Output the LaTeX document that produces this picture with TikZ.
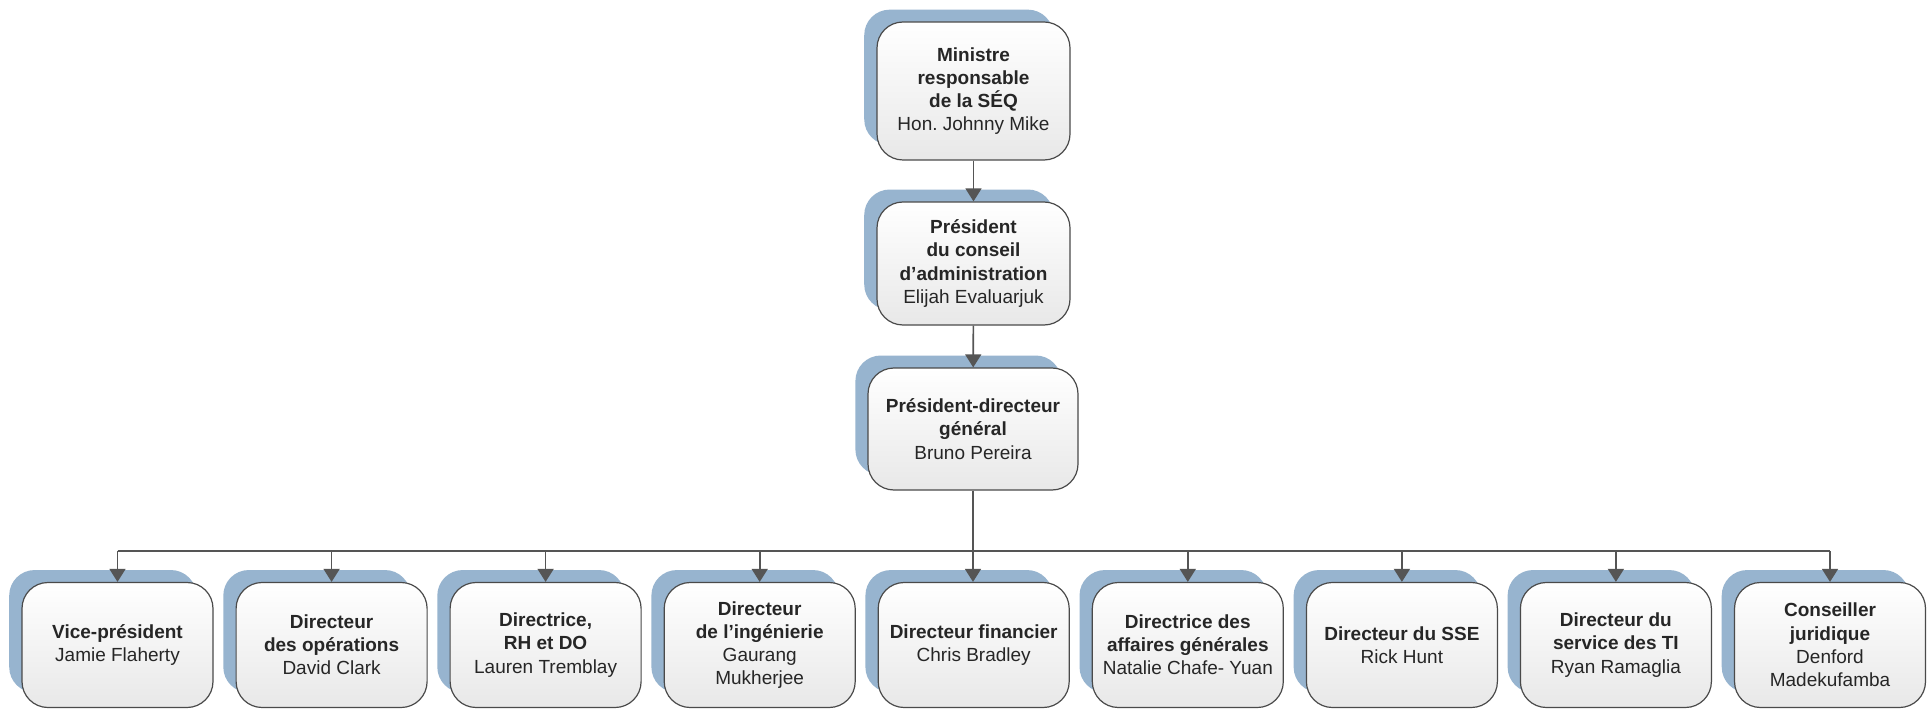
\documentclass[tikz,border=0pt]{standalone}
\usepackage{fontspec}
\setmainfont{Liberation Sans}
\usetikzlibrary{shadows,arrows.meta}
\definecolor{shadowblue}{HTML}{97B4CF}
\definecolor{boxline}{HTML}{4A4A4A}
\definecolor{linkgray}{HTML}{555555}
\definecolor{txt}{HTML}{262626}
\newcommand{\orgfont}{\fontsize{9.5}{11.6}\selectfont}
\tikzset{
  org/.style={rectangle, rounded corners=13pt, draw=boxline, line width=0.6pt,
    top color=white, bottom color=black!9, align=center, text=txt, font=\orgfont,
    inner sep=2pt,
    general shadow={fill=shadowblue, shadow xshift=-7.5pt, shadow yshift=7pt, shadow scale=0.98}},
  small/.style={minimum width=95.5pt, minimum height=62.5pt},
  link/.style={draw=linkgray, line width=0.8pt, -{Triangle[length=6.5pt,width=8pt]}},
  busline/.style={draw=linkgray, line width=1pt}
}
\begin{document}
\frenchspacing
\begin{tikzpicture}[x=0.5pt,y=-0.5pt]
\useasboundingbox[fill=white] (0,0) rectangle (1927,711);

\node[org, minimum width=96.5pt, minimum height=69pt] (a) at (973.5,91)
  {\textbf{Ministre}\\\textbf{responsable}\\\textbf{de la SÉQ}\\Hon. Johnny Mike};
\node[org, minimum width=96.5pt, minimum height=61.5pt] (b) at (973.5,263.5)
  {\textbf{Président}\\\textbf{du conseil}\\\textbf{d’administration}\\Elijah Evaluarjuk};
\node[org, minimum width=105pt, minimum height=61pt] (c) at (973,429)
  {\textbf{Président-directeur}\\\textbf{général}\\Bruno Pereira};

\node[org, small] (b1) at (117.5,645) {\textbf{Vice-président}\\Jamie Flaherty};
\node[org, small] (b2) at (331.6,645) {\textbf{Directeur}\\\textbf{des opérations}\\David Clark};
\node[org, small] (b3) at (545.6,645) {\textbf{Directrice,}\\\textbf{RH et DO}\\Lauren Tremblay};
\node[org, small] (b4) at (759.7,645) {\textbf{Directeur}\\\textbf{de l’ingénierie}\\Gaurang\\Mukherjee};
\node[org, small] (b5) at (973.7,645) {\textbf{Directeur financier}\\Chris Bradley};
\node[org, small] (b6) at (1187.8,645) {\textbf{Directrice des}\\\textbf{affaires générales}\\Natalie Chafe- Yuan};
\node[org, small] (b7) at (1401.9,645) {\textbf{Directeur du SSE}\\Rick Hunt};
\node[org, small] (b8) at (1615.9,645) {\textbf{Directeur du}\\\textbf{service des TI}\\Ryan Ramaglia};
\node[org, small] (b9) at (1830,645) {\textbf{Conseiller}\\\textbf{juridique}\\Denford\\Madekufamba};

\coordinate (bus) at (973,551);

\draw[link] (a) -- (b);
\draw[link] (b) -- (c);
\draw[busline] (b1.north |- bus) -- (b9.north |- bus);
\draw[link] (c.south) -- (c.south |- b5.north);
\foreach \i in {1,2,3,4,6,7,8,9}
  \draw[link] (b\i.north |- bus) -- (b\i.north);
\end{tikzpicture}
\end{document}
